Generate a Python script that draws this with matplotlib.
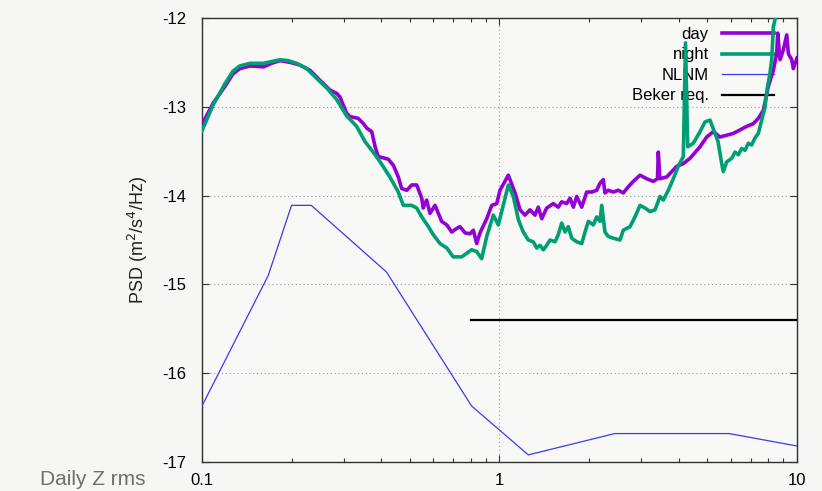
import matplotlib.pyplot as plt
from matplotlib.ticker import LogLocator, FixedLocator, NullFormatter

plt.rcParams['font.family'] = ['Liberation Sans', 'DejaVu Sans']

# daytime spectrum (Hz, log10 PSD)
day_f = [0.100, 0.109, 0.1195, 0.127, 0.134, 0.145, 0.161, 0.1715, 0.183, 0.198,
         0.2135, 0.231, 0.249, 0.269, 0.284, 0.291, 0.306, 0.314, 0.335, 0.349,
         0.358, 0.372, 0.382, 0.391, 0.423, 0.440, 0.457, 0.469, 0.488, 0.507,
         0.527, 0.548, 0.554, 0.569, 0.584, 0.607, 0.623, 0.639, 0.665, 0.691,
         0.718, 0.737, 0.766, 0.796, 0.817, 0.838, 0.860, 0.906, 0.942, 0.979,
         1.004, 1.071, 1.128, 1.172, 1.218, 1.266, 1.316, 1.350, 1.387, 1.441,
         1.516, 1.576, 1.619, 1.682, 1.726, 1.771, 1.818, 1.890, 1.964, 2.042,
         2.122, 2.177, 2.233, 2.262, 2.321, 2.413, 2.507, 2.607, 2.710, 2.817,
         2.967, 3.125, 3.289, 3.397, 3.418, 3.460, 3.648, 3.792, 3.940, 4.148,
         4.369, 4.720, 4.972, 5.233, 5.510, 5.803, 6.107, 6.435, 6.774, 7.130,
         7.413, 7.704, 8.008, 8.325, 8.548, 8.613, 8.769, 8.994, 9.235, 9.350,
         9.599, 9.719, 10.0]
day_psd = [-13.20, -12.96, -12.77, -12.63, -12.57, -12.54, -12.55, -12.51, -12.48, -12.50,
           -12.53, -12.59, -12.70, -12.81, -12.85, -12.89, -13.07, -13.11, -13.13, -13.19,
           -13.24, -13.28, -13.45, -13.56, -13.59, -13.66, -13.79, -13.92, -13.94, -13.88,
           -13.88, -14.03, -14.14, -14.05, -14.20, -14.11, -14.20, -14.29, -14.33, -14.41,
           -14.37, -14.35, -14.42, -14.43, -14.39, -14.54, -14.42, -14.26, -14.11, -14.09,
           -13.94, -13.77, -13.97, -14.16, -14.22, -14.16, -14.22, -14.13, -14.26, -14.14,
           -14.09, -14.13, -14.07, -14.09, -14.03, -14.13, -14.01, -14.13, -13.96, -13.96,
           -13.94, -13.86, -13.82, -13.97, -13.94, -13.96, -13.94, -13.97, -13.90, -13.84,
           -13.77, -13.81, -13.84, -13.81, -13.51, -13.81, -13.79, -13.73, -13.67, -13.64,
           -13.58, -13.45, -13.34, -13.28, -13.34, -13.32, -13.30, -13.26, -13.22, -13.19,
           -13.13, -13.04, -12.77, -12.59, -12.40, -12.17, -12.47, -12.36, -12.19, -12.40,
           -12.47, -12.57, -12.45]

# nighttime spectrum
night_f = [0.100, 0.109, 0.1195, 0.127, 0.134, 0.145, 0.161, 0.1715, 0.183, 0.195,
           0.208, 0.225, 0.243, 0.263, 0.284, 0.306, 0.331, 0.353, 0.376, 0.397,
           0.428, 0.457, 0.475, 0.507, 0.527, 0.548, 0.577, 0.599, 0.631, 0.665,
           0.699, 0.746, 0.776, 0.806, 0.838, 0.871, 0.906, 0.953, 0.991, 1.071,
           1.113, 1.157, 1.202, 1.250, 1.299, 1.334, 1.368, 1.404, 1.441, 1.478,
           1.537, 1.576, 1.619, 1.661, 1.703, 1.749, 1.818, 1.890, 1.939, 1.989,
           2.067, 2.122, 2.177, 2.206, 2.262, 2.321, 2.413, 2.541, 2.607, 2.746,
           2.854, 2.967, 3.084, 3.206, 3.333, 3.464, 3.553, 3.693, 3.839, 3.990,
           4.148, 4.219, 4.291, 4.482, 4.720, 4.907, 5.100, 5.426, 5.584, 5.654,
           5.803, 6.034, 6.189, 6.349, 6.518, 6.687, 6.861, 7.043, 7.224, 7.413,
           7.608, 7.807, 7.931, 8.113, 8.222, 8.325, 8.548, 9.0, 10.0]
night_psd = [-13.27, -12.98, -12.74, -12.60, -12.54, -12.51, -12.51, -12.49, -12.47, -12.48,
             -12.51, -12.57, -12.68, -12.79, -12.92, -13.10, -13.22, -13.39, -13.51, -13.62,
             -13.79, -13.96, -14.11, -14.11, -14.14, -14.24, -14.35, -14.44, -14.54, -14.59,
             -14.69, -14.69, -14.65, -14.61, -14.63, -14.71, -14.46, -14.22, -14.33, -13.88,
             -14.01, -14.27, -14.41, -14.50, -14.52, -14.59, -14.56, -14.61, -14.56, -14.50,
             -14.52, -14.44, -14.31, -14.41, -14.35, -14.48, -14.52, -14.54, -14.41, -14.29,
             -14.33, -14.24, -14.29, -14.11, -14.41, -14.46, -14.48, -14.50, -14.39, -14.35,
             -14.24, -14.11, -14.14, -14.18, -14.16, -14.01, -14.05, -13.94, -13.81, -13.67,
             -13.56, -12.28, -13.45, -13.41, -13.28, -13.17, -13.15, -13.39, -13.64, -13.73,
             -13.62, -13.58, -13.51, -13.54, -13.47, -13.49, -13.41, -13.43, -13.35, -13.30,
             -13.15, -13.00, -12.81, -12.62, -12.47, -12.10, -11.93, -11.70, -11.60]

# Peterson new low noise model
nlnm_f = [0.100, 0.167, 0.200, 0.233, 0.417, 0.806, 1.25, 2.44, 5.92, 10.0]
nlnm_psd = [-16.37, -14.90, -14.11, -14.11, -14.86, -16.37, -16.92, -16.68, -16.68, -16.82]

# Beker requirement
beker_f = [0.8, 10.0]
beker_psd = [-15.40, -15.40]

fig = plt.figure(figsize=(8.22, 4.91), dpi=100, facecolor='#f6f6f4')
ax = fig.add_axes([0.2457, 0.0591, 0.7239, 0.9042])
ax.set_facecolor('#f8f8f6')

ax.plot(day_f, day_psd, color='#9400d3', lw=2.6, label='day', zorder=3)
ax.plot(night_f, night_psd, color='#009e73', lw=2.6, label='night', zorder=4)
ax.plot(nlnm_f, nlnm_psd, color='#3a3af0', lw=0.9, label='NLNM', zorder=3)
ax.plot(beker_f, beker_psd, color='black', lw=1.6, label='Beker req.', zorder=3)

ax.set_xscale('log')
ax.set_xlim(0.1, 10)
ax.set_ylim(-17, -12)
ax.set_xticks([0.1, 1, 10])
ax.set_xticklabels(['0.1', '1', '10'])
ax.xaxis.set_minor_locator(LogLocator(base=10, subs=range(2, 10)))
ax.xaxis.set_minor_formatter(NullFormatter())
ax.yaxis.set_major_locator(FixedLocator([-17, -16, -15, -14, -13, -12]))
ax.set_yticklabels(['-17', '-16', '-15', '-14', '-13', '-12'])

ax.tick_params(which='both', direction='in', top=True, right=True, labelsize=12, color='#333333')
ax.tick_params(which='major', length=5, width=0.8)
ax.tick_params(which='minor', length=3, width=0.8)
ax.tick_params(axis='y', pad=11)
ax.tick_params(axis='x', pad=8)
for s in ax.spines.values():
    s.set_color('#333333')
    s.set_linewidth(1.0)

ax.grid(True, which='major', color='#9a9a9a', lw=0.8, ls=(0, (1, 2.5)))

ax.set_ylabel('PSD (m$^2$/s$^4$/Hz)', fontsize=13, color='#222222')
ax.yaxis.set_label_coords(-0.088, 0.5)

# text on the left of each sample line, right-aligned
leg = ax.legend(loc='upper right', bbox_to_anchor=(0.961, 0.980), frameon=False,
                markerfirst=False, fontsize=12, handlelength=3.1, handletextpad=0.8,
                labelspacing=0.33, borderpad=0, borderaxespad=0)
leg.set_zorder(2)

fig.text(0.049, 0.012, 'Daily Z rms', fontsize=15, color='#6e6e6e', va='baseline')

fig.savefig('out.png', dpi=100, facecolor=fig.get_facecolor())
